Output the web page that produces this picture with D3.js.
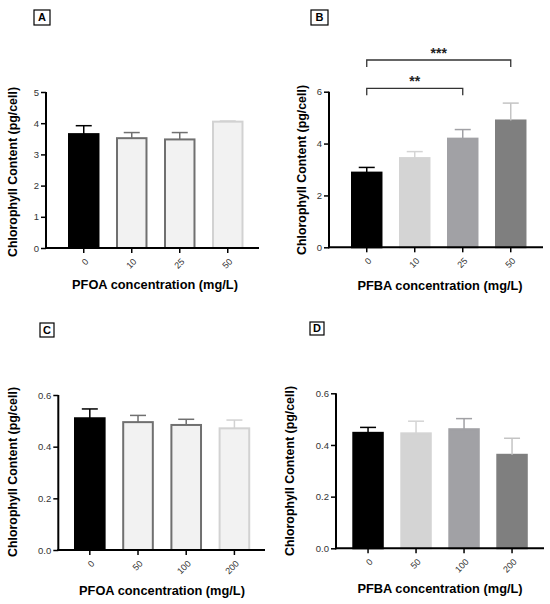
<!DOCTYPE html>
<html>
<head>
<meta charset="utf-8">
<script src="https://cdn.jsdelivr.net/npm/d3@7"></script>
<style>
  body { margin: 0; background: #fff; }
  text { font-family: "Liberation Sans", Arial, sans-serif; }
</style>
</head>
<body>
<svg id="chart" width="550" height="604"></svg>
<script>
// ---- data ----
var concA = ['0', '10', '25', '50'];
var meanA = [3.65, 3.52, 3.48, 4.05];
var sdA   = [0.27, 0.18, 0.22, 0.02];

var concB = ['0', '10', '25', '50'];
var meanB = [2.88, 3.44, 4.19, 4.89];
var sdB   = [0.20, 0.25, 0.35, 0.67];

var concC = ['0', '50', '100', '200'];
var meanC = [0.510, 0.495, 0.484, 0.471];
var sdC   = [0.036, 0.026, 0.022, 0.032];

var concD = ['0', '50', '100', '200'];
var meanD = [0.447, 0.445, 0.461, 0.362];
var sdD   = [0.021, 0.047, 0.041, 0.064];

// significance brackets for panel B: [from, to, label]
var sigB = [['0', '25', '**'], ['0', '50', '***']];

var svg = d3.select('#chart');

// outlined bars (PFOA) and filled grey bars (PFBA)
var outlineStyle = {
    fill:   ['#000', '#f2f2f2', '#f2f2f2', '#f2f2f2'],
    stroke: ['#000', '#707070', '#707070', '#d2d2d2'],
    err:    ['#000', '#707070', '#707070', '#d2d2d2']
};
var greyStyle = {
    fill:   ['#000', '#d4d4d4', '#a1a1a5', '#7f7f7f'],
    stroke: ['#000', '#d4d4d4', '#a1a1a5', '#7f7f7f'],
    err:    ['#000', '#d4d4d4', '#a1a1a5', '#c4c4c4']
};

function drawPanel(p) {
    var g = svg.append('g');

    var y = d3.scaleLinear().domain([0, p.ymax]).range([p.y0, p.y1]);
    var r0 = p.ax + p.gap - p.step * 0.172;
    var x = d3.scaleBand()
        .domain(p.cats)
        .range([r0, r0 + p.step * p.cats.length])
        .paddingInner(0.344)
        .paddingOuter(0.172);

    // bars
    g.selectAll('rect.bar')
        .data(p.cats).enter()
        .append('rect')
        .attr('class', 'bar')
        .attr('x', function (d) { return x(d) + 1; })
        .attr('width', x.bandwidth() - 2)
        .attr('y', function (d, i) { return y(p.mean[i]); })
        .attr('height', function (d, i) { return p.y0 - y(p.mean[i]); })
        .attr('fill', function (d, i) { return p.style.fill[i]; })
        .attr('stroke', function (d, i) { return p.style.stroke[i]; })
        .attr('stroke-width', 2);

    // error bars (upper only)
    var eb = g.selectAll('g.err').data(p.cats).enter().append('g');
    eb.append('line')
        .attr('x1', function (d) { return x(d) + x.bandwidth() / 2; })
        .attr('x2', function (d) { return x(d) + x.bandwidth() / 2; })
        .attr('y1', function (d, i) { return y(p.mean[i]); })
        .attr('y2', function (d, i) { return y(p.mean[i] + p.sd[i]); })
        .attr('stroke', function (d, i) { return p.style.err[i]; })
        .attr('stroke-width', 1.5);
    eb.append('line')
        .attr('x1', function (d) { return x(d) + x.bandwidth() / 2 - 8; })
        .attr('x2', function (d) { return x(d) + x.bandwidth() / 2 + 8; })
        .attr('y1', function (d, i) { return y(p.mean[i] + p.sd[i]); })
        .attr('y2', function (d, i) { return y(p.mean[i] + p.sd[i]); })
        .attr('stroke', function (d, i) { return p.style.err[i]; })
        .attr('stroke-width', 1.5);

    // y axis
    var yAxis = g.append('g')
        .attr('transform', 'translate(' + p.ax + ',0)')
        .call(d3.axisLeft(y).tickValues(p.ticks).tickFormat(d3.format(p.fmt)).tickSize(5).tickSizeOuter(0));
    yAxis.select('.domain').attr('stroke', '#000').attr('stroke-width', 2)
        .attr('d', 'M0,' + (p.y0 + 1) + 'V' + p.y1);
    yAxis.selectAll('.tick line').attr('stroke', '#000').attr('stroke-width', 1.5);
    yAxis.selectAll('.tick text').attr('fill', '#333').style('font-size', '9.5px').attr('x', -7);

    // x axis
    var xAxis = g.append('g')
        .attr('transform', 'translate(0,' + p.y0 + ')')
        .call(d3.axisBottom(x).tickSize(5).tickSizeOuter(0));
    xAxis.select('.domain').attr('stroke', '#000').attr('stroke-width', 2)
        .attr('d', 'M' + (p.ax - 1) + ',0H' + p.axEnd);
    xAxis.selectAll('.tick line').attr('stroke', '#000').attr('stroke-width', 1.5);
    xAxis.selectAll('.tick text')
        .attr('fill', '#333').style('font-size', '9px')
        .attr('text-anchor', 'end')
        .attr('y', 0).attr('dy', '0.35em')
        .attr('transform', 'translate(3,12) rotate(-45)');

    // titles
    g.append('text')
        .attr('transform', 'translate(' + p.ytX + ',' + p.ytY + ') rotate(-90)')
        .attr('text-anchor', 'middle')
        .attr('dy', '0.35em')
        .style('font-size', '12.4px').style('font-weight', 'bold')
        .text('Chlorophyll Content (pg/cell)');
    g.append('text')
        .attr('x', p.xtX).attr('y', p.xtY)
        .attr('text-anchor', 'middle')
        .style('font-size', '12.8px').style('font-weight', 'bold')
        .text(p.xtitle);

    // panel letter
    g.append('rect')
        .attr('x', p.lab[0]).attr('y', p.lab[1])
        .attr('width', p.lab[2]).attr('height', p.lab[3])
        .attr('fill', '#fff').attr('stroke', '#000').attr('stroke-width', 1.2);
    g.append('text')
        .attr('x', p.lab[0] + p.lab[2] / 2).attr('y', p.lab[1] + p.lab[3] / 2)
        .attr('text-anchor', 'middle').attr('dy', '0.36em')
        .style('font-size', '11px').style('font-weight', 'bold')
        .text(p.letter);

    // significance
    if (p.sig) {
        p.sig.forEach(function (s, i) {
            var xa = x(s[0]) + x.bandwidth() / 2;
            var xb = x(s[1]) + x.bandwidth() / 2;
            var by = p.sigY[i];
            g.append('path')
                .attr('d', 'M' + xa + ',' + (by + 7) + 'V' + by + 'H' + xb + 'V' + (by + 7))
                .attr('fill', 'none').attr('stroke', '#333').attr('stroke-width', 1.3);
            g.append('text')
                .attr('x', (xa + xb) / 2).attr('y', by - 2)
                .attr('text-anchor', 'middle')
                .style('font-size', '14px').style('font-weight', 'bold')
                .attr('fill', '#222')
                .text(s[2]);
        });
    }
}

drawPanel({
    letter: 'A', cats: concA, mean: meanA, sd: sdA, style: outlineStyle,
    ymax: 5, ticks: [0, 1, 2, 3, 4, 5], fmt: 'd',
    ax: 46, axEnd: 259, gap: 22, step: 48, y0: 248, y1: 92,
    ytX: 13, ytY: 172, xtX: 155, xtY: 289, xtitle: 'PFOA concentration (mg/L)',
    lab: [34, 10, 16, 15]
});
drawPanel({
    letter: 'B', cats: concB, mean: meanB, sd: sdB, style: greyStyle,
    ymax: 6, ticks: [0, 2, 4, 6], fmt: 'd',
    ax: 329, axEnd: 543, gap: 22, step: 48, y0: 247.3, y1: 91.7,
    ytX: 302, ytY: 170, xtX: 440, xtY: 290, xtitle: 'PFBA concentration (mg/L)',
    lab: [311, 10, 17, 15],
    sig: sigB, sigY: [88.3, 60]
});
drawPanel({
    letter: 'C', cats: concC, mean: meanC, sd: sdC, style: outlineStyle,
    ymax: 0.6, ticks: [0, 0.2, 0.4, 0.6], fmt: '.1f',
    ax: 58.3, axEnd: 265, gap: 15.7, step: 48.2, y0: 550, y1: 395,
    ytX: 13, ytY: 472, xtX: 162, xtY: 595, xtitle: 'PFOA concentration (mg/L)',
    lab: [40, 323, 14, 14]
});
drawPanel({
    letter: 'D', cats: concD, mean: meanD, sd: sdD, style: greyStyle,
    ymax: 0.6, ticks: [0, 0.2, 0.4, 0.6], fmt: '.1f',
    ax: 336, axEnd: 544, gap: 16.3, step: 48, y0: 548.3, y1: 393.3,
    ytX: 290, ytY: 471, xtX: 440, xtY: 593, xtitle: 'PFBA concentration (mg/L)',
    lab: [310, 322, 14, 13]
});
</script>
</body>
</html>
